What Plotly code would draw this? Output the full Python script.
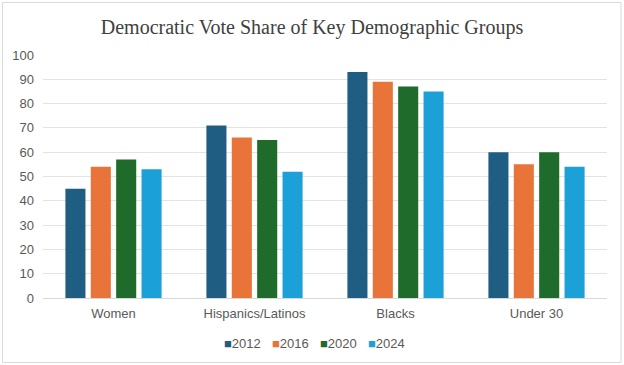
import plotly.graph_objects as go

categories = ["Women", "Hispanics/Latinos", "Blacks", "Under 30"]
years = ["2012", "2016", "2020", "2024"]
v2012 = [45, 71, 93, 60]
v2016 = [54, 66, 89, 55]
v2020 = [57, 65, 87, 60]
v2024 = [53, 52, 85, 54]
series = [v2012, v2016, v2020, v2024]
colors = ["#1F5E82", "#E8743A", "#1F6B2B", "#1BA0D8"]

W, H = 624, 365
ml, mr, mt, mb = 43, 17, 55, 67

fig = go.Figure()
for yr, vals, c in zip(years, series, colors):
    fig.add_trace(go.Bar(x=categories, y=vals, name=yr, showlegend=False,
                         marker=dict(color=c, line=dict(width=0))))

pw = W - ml - mr
ph = H - mt - mb

def px_x(p):
    return (p - ml) / pw

def px_y(p):
    return (H - mb - p) / ph

# legend built as text entries (square glyph + label)
legend_ann = []
for i, (yr, c) in enumerate(zip(years, colors)):
    legend_ann.append(dict(
        xref="paper", yref="paper", x=px_x(222 + i * 48), y=px_y(343),
        xanchor="left", yanchor="middle", showarrow=False,
        text=f"<span style='color:{c}'>■</span>{yr}",
        font=dict(family="Liberation Sans, Arial, sans-serif", size=13, color="#595959"),
    ))

fig.update_layout(
    width=W, height=H,
    margin=dict(l=ml, r=mr, t=mt, b=mb, autoexpand=False),
    paper_bgcolor="white", plot_bgcolor="white",
    barmode="group", bargap=0.28, bargroupgap=0.21,
    title=dict(text="Democratic Vote Share of Key Demographic Groups",
               font=dict(family="Liberation Serif, Times New Roman, serif", size=20, color="#404040"),
               x=0.5, xref="container", xanchor="center", yref="container", y=1 - 27 / H, yanchor="middle"),
    font=dict(family="Liberation Sans, Arial, sans-serif", size=13, color="#595959"),
    xaxis=dict(showgrid=False, showline=True, linecolor="#D9D9D9", linewidth=1,
               ticks="", tickfont=dict(size=13, color="#595959"), automargin=False,
               ticklabelstandoff=3),
    yaxis=dict(range=[0, 100], dtick=10, showgrid=True, gridcolor="#E3E3E3", gridwidth=1,
               zeroline=False, showline=False, ticks="", tickfont=dict(size=13, color="#595959"),
               ticklabelstandoff=8, automargin=False),
    showlegend=False,
    hovermode=False,
    annotations=legend_ann,
    shapes=[dict(type="rect", xref="paper", yref="paper",
                 x0=px_x(2.5), x1=px_x(621), y0=px_y(362.5), y1=px_y(2.5),
                 line=dict(color="#DADADA", width=1), fillcolor="rgba(0,0,0,0)", layer="below")],
)

fig.write_html("out.html", config={"displayModeBar": False, "staticPlot": True},
               post_script="document.body.style.margin='0';document.body.style.overflow='hidden';")
